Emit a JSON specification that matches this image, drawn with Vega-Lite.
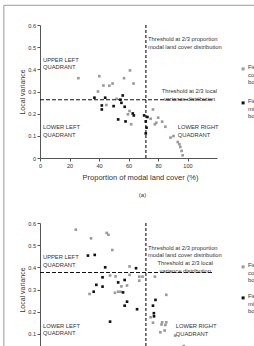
{
  "$schema": "https://vega.github.io/schema/vega-lite/v6.json",
  "background": "white",
  "padding": {"left": 3, "top": 4, "right": 0, "bottom": 0},
  "bounds": "flush",
  "spacing": 65,
  "config": {
    "font": "Liberation Sans",
    "view": {"stroke": null},
    "axis": {"grid": false, "domainColor": "#555", "tickColor": "#555", "labelColor": "#333", "titleColor": "#333", "labelFontSize": 5.6, "labelOverlap": false, "labelFlush": false, "titleFontWeight": "normal", "tickSize": 3, "domainWidth": 1, "tickWidth": 1, "tickCount": 12},
    "axisX": {"labelPadding": 2, "titleFontSize": 7.5},
    "axisY": {"labelPadding": 1.5, "titleFontSize": 7},
    "legend": {"orient": "none", "title": null, "padding": 0, "labelFontSize": 5.8, "labelColor": "#333", "symbolSize": 9, "symbolType": "square", "labelBaseline": "alphabetic", "labelOffset": 2, "labelLimit": 0, "symbolStrokeWidth": 0}
  },
  "datasets": {
    "one": [{}],
    "ptsA": [
      {"x": 26, "y": 0.36, "g": "complete"}, {"x": 40.2, "y": 0.369, "g": "complete"}, {"x": 43, "y": 0.327, "g": "complete"}, {"x": 39.3, "y": 0.30, "g": "complete"}, {"x": 47, "y": 0.326, "g": "complete"}, {"x": 49.2, "y": 0.336, "g": "complete"}, {"x": 57, "y": 0.36, "g": "complete"}, {"x": 61, "y": 0.395, "g": "complete"}, {"x": 63.4, "y": 0.336, "g": "complete"}, {"x": 45, "y": 0.239, "g": "complete"}, {"x": 52, "y": 0.267, "g": "complete"}, {"x": 59.6, "y": 0.197, "g": "complete"}, {"x": 60.7, "y": 0.212, "g": "complete"}, {"x": 61.8, "y": 0.152, "g": "complete"}, {"x": 76.6, "y": 0.219, "g": "complete"}, {"x": 75, "y": 0.177, "g": "complete"}, {"x": 80.1, "y": 0.182, "g": "complete"}, {"x": 78.8, "y": 0.159, "g": "complete"}, {"x": 77.9, "y": 0.152, "g": "complete"}, {"x": 82.8, "y": 0.164, "g": "complete"}, {"x": 85, "y": 0.141, "g": "complete"}, {"x": 88.5, "y": 0.092, "g": "complete"}, {"x": 90.5, "y": 0.099, "g": "complete"}, {"x": 93.4, "y": 0.072, "g": "complete"}, {"x": 94.5, "y": 0.062, "g": "complete"}, {"x": 95.1, "y": 0.05, "g": "complete"}, {"x": 96, "y": 0.032, "g": "complete"}, {"x": 96.7, "y": 0.012, "g": "complete"},
      {"x": 36.9, "y": 0.272, "g": "missing"}, {"x": 44.2, "y": 0.272, "g": "missing"}, {"x": 41.9, "y": 0.237, "g": "missing"}, {"x": 41.9, "y": 0.219, "g": "missing"}, {"x": 49.9, "y": 0.234, "g": "missing"}, {"x": 56.1, "y": 0.282, "g": "missing"}, {"x": 54.5, "y": 0.263, "g": "missing"}, {"x": 55.2, "y": 0.249, "g": "missing"}, {"x": 57.4, "y": 0.231, "g": "missing"}, {"x": 53, "y": 0.174, "g": "missing"}, {"x": 58, "y": 0.165, "g": "missing"}, {"x": 62.9, "y": 0.201, "g": "missing"}, {"x": 63.6, "y": 0.192, "g": "missing"}, {"x": 70.6, "y": 0.192, "g": "missing"}, {"x": 72.8, "y": 0.185, "g": "missing"}, {"x": 71.7, "y": 0.165, "g": "missing"}, {"x": 72.2, "y": 0.137, "g": "missing"}, {"x": 71.7, "y": 0.111, "g": "missing"}
    ],
    "ptsB": [
      {"x": 24.3, "y": 0.57, "g": "complete"}, {"x": 34.6, "y": 0.531, "g": "complete"}, {"x": 45.2, "y": 0.555, "g": "complete"}, {"x": 46.4, "y": 0.547, "g": "complete"}, {"x": 49, "y": 0.478, "g": "complete"}, {"x": 60.7, "y": 0.404, "g": "complete"}, {"x": 47.5, "y": 0.363, "g": "complete"}, {"x": 51.2, "y": 0.359, "g": "complete"}, {"x": 60.7, "y": 0.366, "g": "complete"}, {"x": 55.2, "y": 0.314, "g": "complete"}, {"x": 59, "y": 0.318, "g": "complete"}, {"x": 33.6, "y": 0.28, "g": "complete"}, {"x": 50.8, "y": 0.285, "g": "complete"}, {"x": 53, "y": 0.29, "g": "complete"}, {"x": 54.6, "y": 0.29, "g": "complete"}, {"x": 67.3, "y": 0.358, "g": "complete"}, {"x": 69.5, "y": 0.358, "g": "complete"}, {"x": 67.3, "y": 0.34, "g": "complete"}, {"x": 77.9, "y": 0.358, "g": "complete"}, {"x": 85.6, "y": 0.276, "g": "complete"}, {"x": 75, "y": 0.175, "g": "complete"}, {"x": 76.6, "y": 0.15, "g": "complete"}, {"x": 82.8, "y": 0.152, "g": "complete"}, {"x": 85.6, "y": 0.152, "g": "complete"}, {"x": 82.4, "y": 0.142, "g": "complete"}, {"x": 85, "y": 0.14, "g": "complete"}, {"x": 81.6, "y": 0.107, "g": "complete"}, {"x": 84.5, "y": 0.115, "g": "complete"}, {"x": 91.6, "y": 0.092, "g": "complete"}, {"x": 97.5, "y": 0.045, "g": "complete"},
      {"x": 32.5, "y": 0.453, "g": "missing"}, {"x": 37.1, "y": 0.456, "g": "missing"}, {"x": 44.2, "y": 0.40, "g": "missing"}, {"x": 65.1, "y": 0.396, "g": "missing"}, {"x": 42.4, "y": 0.355, "g": "missing"}, {"x": 53, "y": 0.332, "g": "missing"}, {"x": 57.4, "y": 0.343, "g": "missing"}, {"x": 38.2, "y": 0.321, "g": "missing"}, {"x": 42.4, "y": 0.313, "g": "missing"}, {"x": 36.4, "y": 0.29, "g": "missing"}, {"x": 56.3, "y": 0.287, "g": "missing"}, {"x": 59, "y": 0.245, "g": "missing"}, {"x": 57.4, "y": 0.227, "g": "missing"}, {"x": 65.8, "y": 0.211, "g": "missing"}, {"x": 47.5, "y": 0.155, "g": "missing"}, {"x": 78.3, "y": 0.253, "g": "missing"}, {"x": 76.6, "y": 0.227, "g": "missing"}, {"x": 77.3, "y": 0.179, "g": "missing"}, {"x": 77.2, "y": 0.193, "g": "missing"}
    ],
    "leftA": [
      {"x": 2, "y": 0.444, "t": "UPPER LEFT\nQUADRANT"},
      {"x": 2, "y": 0.14, "t": "LOWER LEFT\nQUADRANT"},
      {"x": 93.4, "y": 0.141, "t": "LOWER RIGHT\nQUADRANT"},
      {"x": 73.2, "y": 0.538, "t": "Threshold at 2/3 proportion\nmodal land cover distribution"}
    ],
    "midA": [
      {"x": 101.3, "y": 0.303, "t": "Threshold at 2/3 local\nvariance distribution"}
    ],
    "leftB": [
      {"x": 2, "y": 0.446, "t": "UPPER LEFT\nQUADRANT"},
      {"x": 2, "y": 0.137, "t": "LOWER LEFT\nQUADRANT"},
      {"x": 92, "y": 0.135, "t": "LOWER RIGHT\nQUADRANT"},
      {"x": 73.2, "y": 0.489, "t": "Threshold at 2/3 proportion\nmodal land cover distribution"}
    ],
    "midB": [
      {"x": 98.5, "y": 0.418, "t": "Threshold at 2/3 local\nvariance distribution"}
    ]
  },
  "resolve": {"scale": {"color": "independent"}, "legend": {"color": "independent"}},
  "vconcat": [
    {
      "width": 177,
      "height": 133,
      "layer": [
        {
          "data": {"name": "ptsA"},
          "mark": {"type": "point", "shape": "square", "filled": true, "size": 7, "opacity": 1},
          "encoding": {
            "x": {"field": "x", "type": "quantitative", "scale": {"domain": [0, 117]}, "axis": {"title": "Proportion of modal land cover (%)", "titleColor": "#333333", "values": [0, 20, 40, 60, 80, 100], "tickCount": 12, "labelOverlap": false, "titleX": 100, "titleY": 19, "titleBaseline": "middle"}},
            "y": {"field": "y", "type": "quantitative", "scale": {"domain": [0, 0.6]}, "axis": {"title": "Local variance", "titleColor": "#333333", "values": [0, 0.1, 0.2, 0.3, 0.4, 0.5, 0.6], "tickCount": 12, "labelOverlap": false, "labelExpr": "datum.value == 0 ? '0' : format(datum.value, '.1f')", "titleX": -18, "titleBaseline": "middle"}},
            "color": {"field": "g", "type": "nominal", "scale": {"domain": ["complete", "missing"], "range": ["#9a9a9a", "#111111"]},
              "legend": {"title": null, "legendX": 200.2, "legendY": 41, "rowPadding": 11, "labelExpr": "datum.value == 'complete' ? ['Fields with', 'complete', 'boundaries'] : ['Fields with', 'missing', 'boundaries']"}}
          }
        },
        {
          "data": {"name": "one"},
          "mark": {"type": "rect", "filled": false, "stroke": "#9a9a9a", "strokeWidth": 1, "clip": false},
          "encoding": {"x": {"datum": -24.5, "type": "quantitative"}, "x2": {"datum": 160}, "y": {"datum": 0.689, "type": "quantitative"}, "y2": {"datum": -1.3}}
        },
        {
          "data": {"name": "one"},
          "mark": {"type": "rule", "strokeDash": [4, 2], "color": "#111", "strokeWidth": 1.1},
          "encoding": {"y": {"datum": 0.263, "type": "quantitative"}, "x": {"datum": 0, "type": "quantitative"}, "x2": {"datum": 117}}
        },
        {
          "data": {"name": "one"},
          "mark": {"type": "rule", "strokeDash": [3, 2], "color": "#111", "strokeWidth": 1.1},
          "encoding": {"x": {"datum": 71.8, "type": "quantitative"}, "y": {"datum": 0, "type": "quantitative"}, "y2": {"datum": 0.6}}
        },
        {
          "data": {"name": "leftA"},
          "mark": {"type": "text", "align": "left", "baseline": "middle", "lineBreak": "\n", "fontSize": 5.8, "lineHeight": 7.8, "color": "#333"},
          "encoding": {"x": {"field": "x", "type": "quantitative"}, "y": {"field": "y", "type": "quantitative"}, "text": {"field": "t"}}
        },
        {
          "data": {"name": "midA"},
          "mark": {"type": "text", "align": "center", "baseline": "middle", "lineBreak": "\n", "fontSize": 5.8, "lineHeight": 8.5, "color": "#333"},
          "encoding": {"x": {"field": "x", "type": "quantitative"}, "y": {"field": "y", "type": "quantitative"}, "text": {"field": "t"}}
        }
      ]
    },
    {
      "width": 177,
      "height": 133,
      "title": {"text": "(a)", "fontSize": 6, "fontWeight": "normal", "color": "#333", "frame": "group", "anchor": "middle", "dx": 14, "offset": 23},
      "layer": [
        {
          "data": {"name": "ptsB"},
          "mark": {"type": "point", "shape": "square", "filled": true, "size": 7, "opacity": 1},
          "encoding": {
            "x": {"field": "x", "type": "quantitative", "scale": {"domain": [0, 117]}, "axis": {"title": "Proportion of modal land cover (%)", "titleColor": "#333333", "values": [0, 20, 40, 60, 80, 100], "tickCount": 12, "labelOverlap": false, "titleX": 100, "titleY": 19, "titleBaseline": "middle"}},
            "y": {"field": "y", "type": "quantitative", "scale": {"domain": [0, 0.6]}, "axis": {"title": "Local variance", "titleColor": "#333333", "values": [0, 0.1, 0.2, 0.3, 0.4, 0.5, 0.6], "tickCount": 12, "labelOverlap": false, "labelExpr": "datum.value == 0 ? '0' : format(datum.value, '.1f')", "titleX": -18, "titleBaseline": "middle"}},
            "color": {"field": "g", "type": "nominal", "scale": {"domain": ["complete", "missing"], "range": ["#9a9a9a", "#111111"]},
              "legend": {"title": null, "legendX": 200.2, "legendY": 41, "rowPadding": 8, "labelExpr": "datum.value == 'complete' ? ['Fields with', 'complete', 'boundaries'] : ['Fields with', 'missing', 'boundaries']"}}
          }
        },
        {
          "data": {"name": "one"},
          "mark": {"type": "rule", "strokeDash": [4, 2], "color": "#111", "strokeWidth": 1.1},
          "encoding": {"y": {"datum": 0.377, "type": "quantitative"}, "x": {"datum": 0, "type": "quantitative"}, "x2": {"datum": 117}}
        },
        {
          "data": {"name": "one"},
          "mark": {"type": "rule", "strokeDash": [3, 2], "color": "#111", "strokeWidth": 1.1},
          "encoding": {"x": {"datum": 71.8, "type": "quantitative"}, "y": {"datum": 0, "type": "quantitative"}, "y2": {"datum": 0.6}}
        },
        {
          "data": {"name": "leftB"},
          "mark": {"type": "text", "align": "left", "baseline": "middle", "lineBreak": "\n", "fontSize": 5.8, "lineHeight": 7.8, "color": "#333"},
          "encoding": {"x": {"field": "x", "type": "quantitative"}, "y": {"field": "y", "type": "quantitative"}, "text": {"field": "t"}}
        },
        {
          "data": {"name": "midB"},
          "mark": {"type": "text", "align": "center", "baseline": "middle", "lineBreak": "\n", "fontSize": 5.8, "lineHeight": 7.5, "color": "#333"},
          "encoding": {"x": {"field": "x", "type": "quantitative"}, "y": {"field": "y", "type": "quantitative"}, "text": {"field": "t"}}
        }
      ]
    }
  ]
}
